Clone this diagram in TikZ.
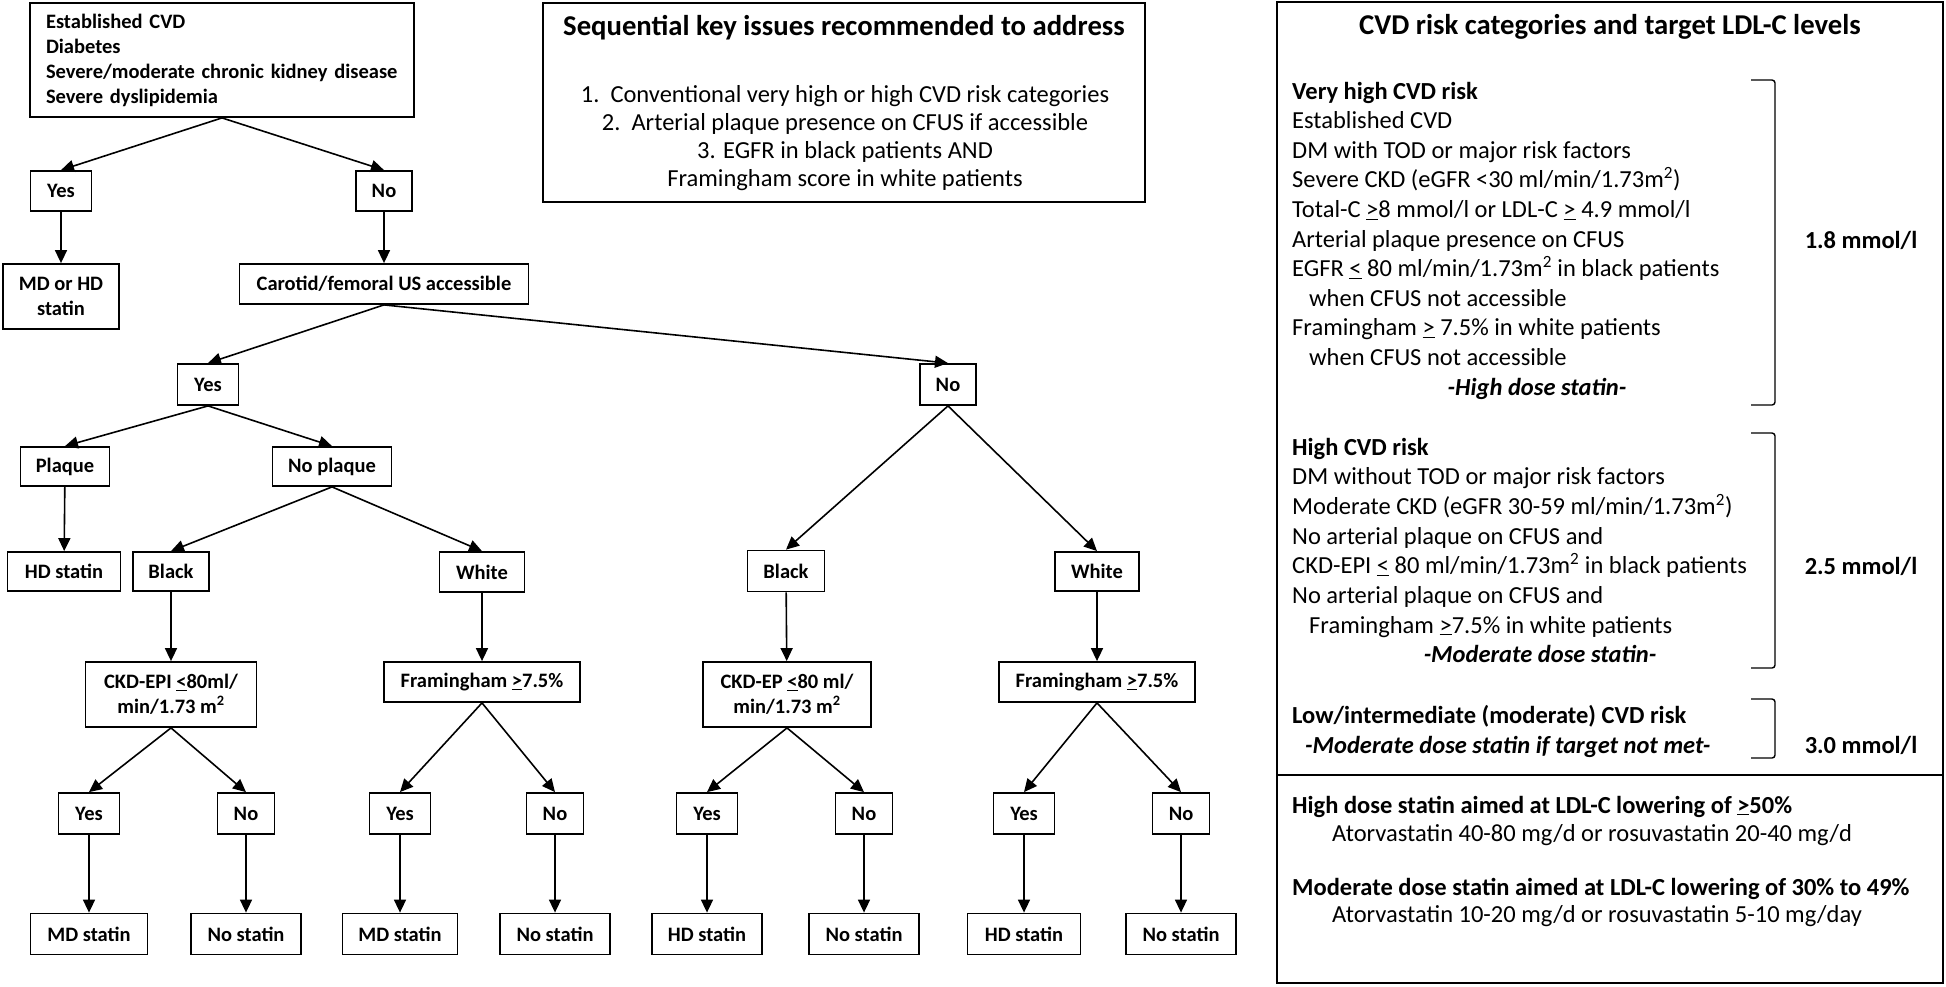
\documentclass[tikz,border=0pt]{standalone}
\usepackage{fontspec}
\setmainfont{Carlito}
\usetikzlibrary{arrows.meta}
\tikzset{
  tbox/.style={draw, line width=1.8pt, inner sep=0pt, align=center,
    font=\fontsize{20.5}{24.5}\selectfont\bfseries, minimum height=40pt},
  arr/.style={line width=1.6pt, -{Triangle[length=13pt,width=12pt]}},
  pl/.style={anchor=base west, inner sep=0pt, font=\fontsize{24.5}{29}\selectfont},
  plb/.style={pl, font=\fontsize{24.5}{29}\selectfont\bfseries},
  plc/.style={anchor=base, inner sep=0pt, font=\fontsize{24.5}{29}\selectfont\bfseries\itshape},
  ttl/.style={anchor=base, inner sep=0pt, font=\fontsize{28.7}{34}\selectfont\bfseries},
  sq/.style={anchor=base, inner sep=0pt, font=\fontsize{24.5}{29}\selectfont},
  mm/.style={inner sep=0pt, font=\fontsize{24.5}{29}\selectfont\bfseries},
  brk/.style={line width=1.4pt, rounded corners=3pt},
  frame/.style={draw, line width=1.8pt}
}
\newcommand\ul[1]{\underline{#1}}
\begin{document}
\begin{tikzpicture}[x=1pt,y=-1pt]
\useasboundingbox (0,0) rectangle (1946,986);

% ---------------- decision tree ----------------
\node[tbox, minimum width=384pt, minimum height=114pt, align=left, text width=352pt,
  font=\fontsize{20.5}{25}\selectfont\bfseries] (top) at (222,60)
  {Established CVD\\Diabetes\\Severe/moderate chronic kidney disease\\Severe dyslipidemia};

\node[tbox, minimum width=61pt] (yes1) at (61,191) {Yes};
\node[tbox, minimum width=56pt] (no1) at (384,191) {No};
\node[tbox, minimum width=116pt, minimum height=65pt] (mdhd) at (61,296.5) {MD or HD\\statin};
\node[tbox, minimum width=289pt] (carotid) at (384,284) {Carotid/femoral US accessible};

\node[tbox, minimum width=61pt, minimum height=41pt] (yes2) at (208,384.5) {Yes};
\node[tbox, minimum width=56pt, minimum height=41pt] (no2) at (948,384.5) {No};

\node[tbox, minimum width=89pt, minimum height=39pt] (plaque) at (65,466.5) {Plaque};
\node[tbox, minimum width=119pt, minimum height=39pt] (noplaque) at (332,466.5) {No plaque};

\node[tbox, minimum width=113pt, minimum height=39pt] (hd1) at (64,571.5) {HD statin};
\node[tbox, minimum width=76pt, minimum height=39pt] (black1) at (171,571.5) {Black};
\node[tbox, minimum width=85pt] (white1) at (482,572) {White};
\node[tbox, minimum width=77pt, minimum height=41pt] (black2) at (786,571) {Black};
\node[tbox, minimum width=84pt, minimum height=39pt] (white2) at (1097,571.5) {White};

\node[tbox, minimum width=171pt, minimum height=65pt] (ckdepi) at (171,694.5) {CKD-EPI \ul{<}80ml/\\min/1.73 m\textsuperscript{2}};
\node[tbox, minimum width=196pt] (fram1) at (482,682) {Framingham \ul{>}7.5\%};
\node[tbox, minimum width=168pt, minimum height=65pt] (ckdep) at (787,694.5) {CKD-EP \ul{<}80 ml/\\min/1.73 m\textsuperscript{2}};
\node[tbox, minimum width=196pt] (fram2) at (1097,682) {Framingham \ul{>}7.5\%};

\node[tbox, minimum width=61pt, minimum height=41pt] (ya) at (89,813.5) {Yes};
\node[tbox, minimum width=57pt, minimum height=41pt] (na) at (246,813.5) {No};
\node[tbox, minimum width=61pt, minimum height=41pt] (yb) at (400,813.5) {Yes};
\node[tbox, minimum width=57pt, minimum height=41pt] (nb) at (555,813.5) {No};
\node[tbox, minimum width=61pt, minimum height=41pt] (yc) at (707,813.5) {Yes};
\node[tbox, minimum width=57pt, minimum height=41pt] (nc) at (864,813.5) {No};
\node[tbox, minimum width=61pt, minimum height=41pt] (yd) at (1024,813.5) {Yes};
\node[tbox, minimum width=57pt, minimum height=41pt] (nd) at (1181,813.5) {No};

\node[tbox, minimum width=117pt, minimum height=41pt] (mda) at (89,934) {MD statin};
\node[tbox, minimum width=110pt, minimum height=41pt] (nsa) at (246,934) {No statin};
\node[tbox, minimum width=115pt, minimum height=41pt] (mdb) at (400,934) {MD statin};
\node[tbox, minimum width=110pt, minimum height=41pt] (nsb) at (555,934) {No statin};
\node[tbox, minimum width=110pt, minimum height=41pt] (hdc) at (707,934) {HD statin};
\node[tbox, minimum width=110pt, minimum height=41pt] (nsc) at (864,934) {No statin};
\node[tbox, minimum width=113pt, minimum height=41pt] (hdd) at (1024,934) {HD statin};
\node[tbox, minimum width=110pt, minimum height=41pt] (nsd) at (1181,934) {No statin};

% connectors
\draw[arr] (top.south) -- (yes1.north);
\draw[arr] (top.south) -- (no1.north);
\draw[arr] (yes1) -- (mdhd);
\draw[arr] (no1) -- (carotid);
\draw[arr] (carotid.south) -- (yes2.north);
\draw[arr] (carotid.south) -- (no2.north);
\draw[arr] (yes2.south) -- (plaque.north);
\draw[arr] (yes2.south) -- (noplaque.north);
\draw[arr] (plaque) -- (hd1);
\draw[arr] (noplaque.south) -- (black1.north);
\draw[arr] (noplaque.south) -- (white1.north);
\draw[arr] (black1) -- (ckdepi);
\draw[arr] (white1) -- (fram1);
\draw[arr] (no2.south) -- (black2.north);
\draw[arr] (no2.south) -- (white2.north);
\draw[arr] (black2) -- (ckdep);
\draw[arr] (white2) -- (fram2);
\draw[arr] (ckdepi.south) -- (ya.north);
\draw[arr] (ckdepi.south) -- (na.north);
\draw[arr] (fram1.south) -- (yb.north);
\draw[arr] (fram1.south) -- (nb.north);
\draw[arr] (ckdep.south) -- (yc.north);
\draw[arr] (ckdep.south) -- (nc.north);
\draw[arr] (fram2.south) -- (yd.north);
\draw[arr] (fram2.south) -- (nd.north);
\draw[arr] (ya) -- (mda);
\draw[arr] (na) -- (nsa);
\draw[arr] (yb) -- (mdb);
\draw[arr] (nb) -- (nsb);
\draw[arr] (yc) -- (hdc);
\draw[arr] (nc) -- (nsc);
\draw[arr] (yd) -- (hdd);
\draw[arr] (nd) -- (nsd);

% ---------------- sequential key issues ----------------
\draw[frame] (543,3) rectangle (1145,202);
\node[ttl] (sqt) at (844,35.5) {Sequential key issues recommended to address};
\node[sq] (sq1) at (845,102) {1.\ \ Conventional very high or high CVD risk categories};
\node[sq] (sq2) at (845,130) {2.\ \ Arterial plaque presence on CFUS if accessible};
\node[sq] (sq3) at (845,158) {3. EGFR in black patients AND};
\node[sq] (sq4) at (845,186) {Framingham score in white patients};

% ---------------- right panel ----------------
\draw[frame] (1277,2) rectangle (1943,983);
\draw[line width=1.8pt] (1277,775) -- (1943,775);
\node[ttl] (rt) at (1610,34.5) {CVD risk categories and target LDL-C levels};

\node[plb] (a1) at (1292,99) {Very high CVD risk};
\node[pl] (a2) at (1292,128.6) {Established CVD};
\node[pl] (a3) at (1292,158.2) {DM with TOD or major risk factors};
\node[pl] (a4) at (1292,187.8) {Severe CKD (eGFR <30 ml/min/1.73m\textsuperscript{2})};
\node[pl] (a5) at (1292,217.4) {Total-C \ul{>}8 mmol/l or LDL-C \ul{>} 4.9 mmol/l};
\node[pl] (a6) at (1292,247) {Arterial plaque presence on CFUS};
\node[pl] (a7) at (1292,276.6) {EGFR \ul{<} 80 ml/min/1.73m\textsuperscript{2} in black patients};
\node[pl] (a8) at (1309,306.2) {when CFUS not accessible};
\node[pl] (a9) at (1292,335.8) {Framingham \ul{>} 7.5\% in white patients};
\node[pl] (a10) at (1309,365.4) {when CFUS not accessible};
\node[plc] (a11) at (1537,395) {-High dose statin-};
\draw[brk] (1751,80) -- (1775,80) -- (1775,405) -- (1751,405);
\node[mm] (m1) at (1861,240) {1.8 mmol/l};

\node[plb] (b1) at (1292,455) {High CVD risk};
\node[pl] (b2) at (1292,484.7) {DM without TOD or major risk factors};
\node[pl] (b3) at (1292,514.4) {Moderate CKD (eGFR 30-59 ml/min/1.73m\textsuperscript{2})};
\node[pl] (b4) at (1292,544.1) {No arterial plaque on CFUS and};
\node[pl] (b5) at (1292,573.8) {CKD-EPI \ul{<} 80 ml/min/1.73m\textsuperscript{2} in black patients};
\node[pl] (b6) at (1292,603.5) {No arterial plaque on CFUS and};
\node[pl] (b7) at (1309,633.2) {Framingham \ul{>}7.5\% in white patients};
\node[plc] (b8) at (1540,662.9) {-Moderate dose statin-};
\draw[brk] (1751,433) -- (1775,433) -- (1775,668) -- (1751,668);
\node[mm] (m2) at (1861,566) {2.5 mmol/l};

\node[plb] (c1) at (1292,723) {Low/intermediate (moderate) CVD risk};
\node[pl, font=\fontsize{24.5}{29}\selectfont\bfseries\itshape] (c2) at (1305,753) {-Moderate dose statin if target not met-};
\draw[brk] (1751,699) -- (1775,699) -- (1775,758) -- (1751,758);
\node[mm] (m3) at (1861,745) {3.0 mmol/l};

\node[plb] (d1) at (1292,813) {High dose statin aimed at LDL-C lowering of \ul{>}50\%};
\node[pl] (d2) at (1332,841) {Atorvastatin 40-80 mg/d or rosuvastatin 20-40 mg/d};
\node[plb] (d3) at (1292,895) {Moderate dose statin aimed at LDL-C lowering of 30\% to 49\%};
\node[pl] (d4) at (1332,922) {Atorvastatin 10-20 mg/d or rosuvastatin 5-10 mg/day};
\end{tikzpicture}
\end{document}
